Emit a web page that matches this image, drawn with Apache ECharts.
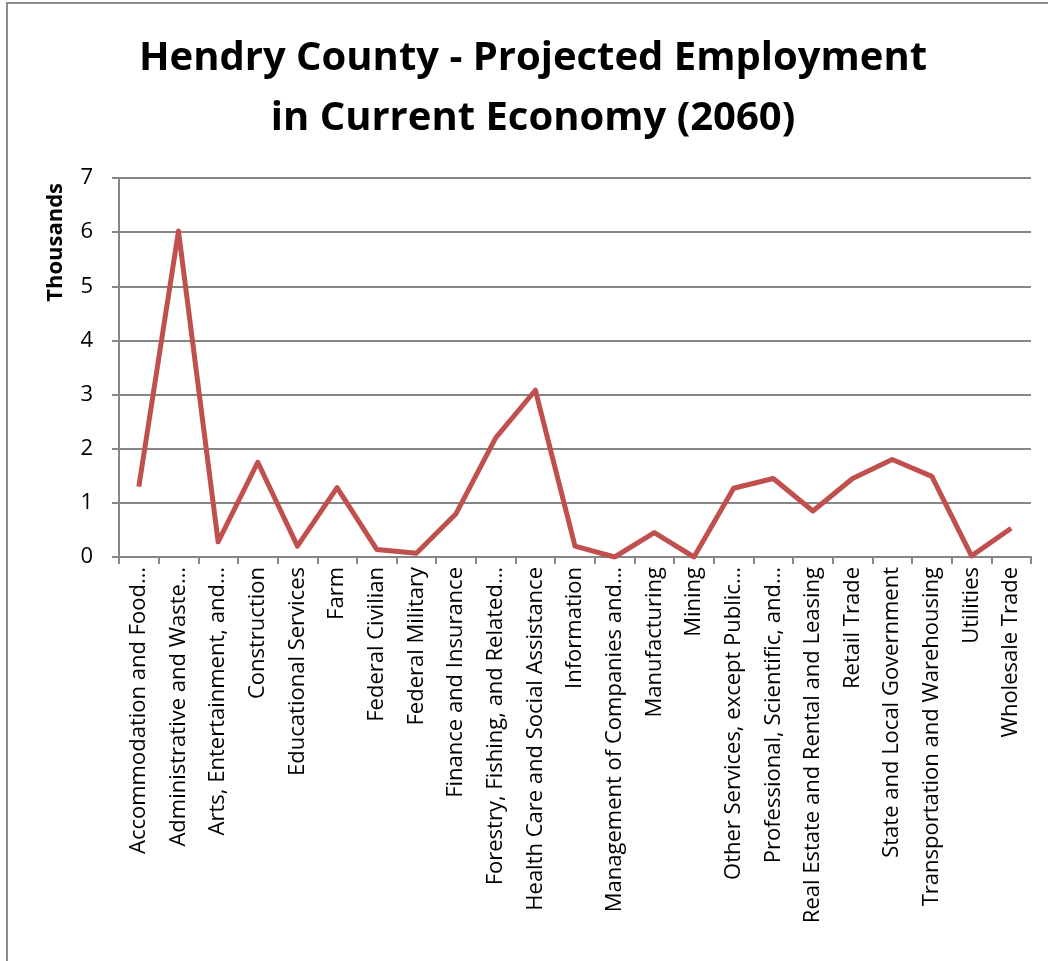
<!DOCTYPE html>
<html>
<head>
<meta charset="utf-8">
<script src="https://cdn.jsdelivr.net/npm/echarts@6/dist/echarts.min.js"></script>
<style>
html, body { margin: 0; padding: 0; background: #fff; }
#chart { position: absolute; left: 6px; top: 2px; width: 1042px; height: 959px; border-left: 2px solid #8c8c8c; border-top: 2px solid #8c8c8c; box-sizing: border-box; }
</style>
</head>
<body>
<div id="chart"></div>
<script>
var categories = [
	'Accommodation and Food…',
	'Administrative and Waste…',
	'Arts, Entertainment, and…',
	'Construction',
	'Educational Services',
	'Farm',
	'Federal Civilian',
	'Federal Military',
	'Finance and Insurance',
	'Forestry, Fishing, and Related…',
	'Health Care and Social Assistance',
	'Information',
	'Management of Companies and…',
	'Manufacturing',
	'Mining',
	'Other Services, except Public…',
	'Professional, Scientific, and…',
	'Real Estate and Rental and Leasing',
	'Retail Trade',
	'State and Local Government',
	'Transportation and Warehousing',
	'Utilities',
	'Wholesale Trade'
];

var employment = [1.3, 6.02, 0.28, 1.75, 0.2, 1.28, 0.14, 0.07, 0.8, 2.2, 3.08, 0.2, 0.0, 0.45, 0.0, 1.27, 1.45, 0.85, 1.45, 1.8, 1.49, 0.02, 0.53];

var yTicks = [0, 1, 2, 3, 4, 5, 6, 7];

var dom = document.getElementById('chart');
var myChart = echarts.init(dom);

var option = {
	animation: false,
	textStyle: {
		fontFamily: 'Open Sans'
	},
	title: {
		text: 'Hendry County - Projected Employment\nin Current Economy (2060)',
		left: 520,
		textAlign: 'center',
		top: 20,
		textStyle: {
			fontFamily: 'Open Sans',
			fontSize: 40,
			fontWeight: 'bold',
			color: '#000',
			lineHeight: 60
		}
	},
	grid: {
		left: 111,
		right: 17,
		top: 174,
		bottom: 404
	},
	xAxis: {
		type: 'category',
		data: categories,
		boundaryGap: true,
		axisLine: { lineStyle: { color: '#868686', width: 2 } },
		axisTick: { show: true, length: 7, lineStyle: { color: '#868686', width: 2 } },
		axisLabel: {
			rotate: 90,
			interval: 0,
			fontSize: 22,
			color: '#000',
			margin: 10
		}
	},
	yAxis: {
		type: 'value',
		min: yTicks[0],
		max: yTicks[yTicks.length - 1],
		interval: 1,
		name: 'Thousands',
		nameLocation: 'end',
		nameRotate: 90,
		nameGap: 0,
		nameTextStyle: {
			fontSize: 22,
			fontWeight: 'bold',
			color: '#000',
			align: 'right',
			verticalAlign: 'bottom',
			padding: [0, 5, 52, 0]
		},
		axisLine: { show: true, lineStyle: { color: '#868686', width: 2 } },
		axisTick: { show: true, length: 7, lineStyle: { color: '#868686', width: 2 } },
		axisLabel: {
			fontSize: 22,
			color: '#000',
			margin: 26
		},
		splitLine: { lineStyle: { color: '#868686', width: 2 } }
	},
	series: [{
		name: 'Employment',
		type: 'line',
		data: employment,
		symbol: 'none',
		lineStyle: { color: '#c0504d', width: 5, join: 'round' },
		itemStyle: { color: '#c0504d' }
	}]
};

myChart.setOption(option);
</script>
</body>
</html>
